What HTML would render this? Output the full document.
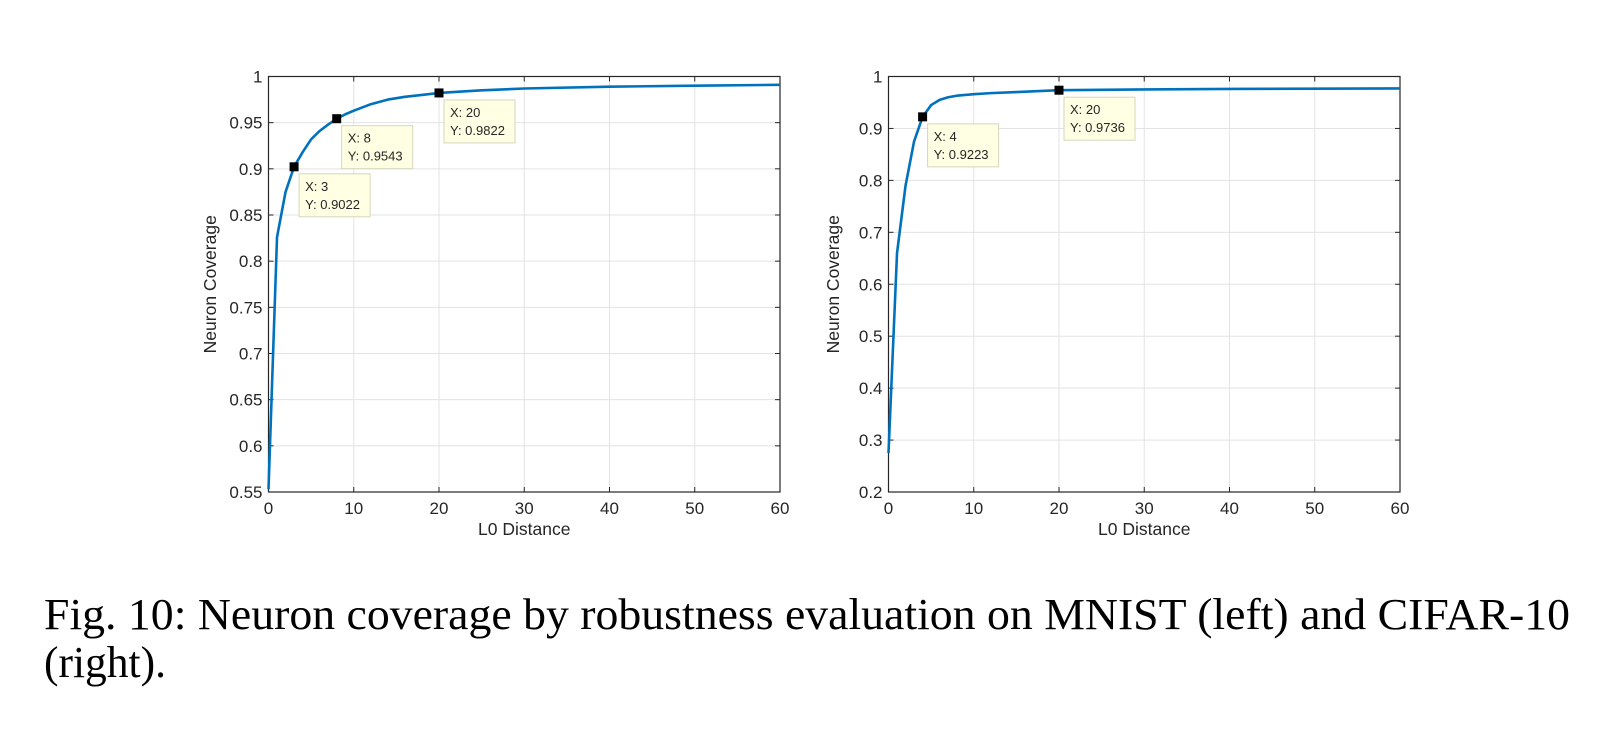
<!DOCTYPE html>
<html><head><meta charset="utf-8"><style>
html,body{margin:0;padding:0;background:#fff;width:1601px;height:729px;overflow:hidden}
svg text{font-family:"Liberation Sans",sans-serif}
</style></head><body>
<svg id="fig" width="1601" height="729" xmlns="http://www.w3.org/2000/svg">
<text x="44" y="629" style="font-family:'Liberation Serif',serif" font-size="44" textLength="1526" lengthAdjust="spacingAndGlyphs">Fig. 10: Neuron coverage by robustness evaluation on MNIST (left) and CIFAR-10</text>
<text x="44" y="677" style="font-family:'Liberation Serif',serif" font-size="44" textLength="122" lengthAdjust="spacingAndGlyphs">(right).</text>
</svg>
<script>
const leftX=[0,1,2,3,4,5,6,7,8,9,10,12,14,16,18,20,25,30,40,50,60];
const leftY=[0.553,0.826,0.875,0.9022,0.918,0.932,0.941,0.948,0.9543,0.959,0.963,0.970,0.975,0.978,0.980,0.9822,0.985,0.987,0.989,0.990,0.991];
const rightX=[0,1,2,3,4,5,6,7,8,10,12,15,20,30,40,60];
const rightY=[0.275,0.66,0.79,0.875,0.9223,0.945,0.955,0.96,0.963,0.966,0.968,0.970,0.9736,0.975,0.976,0.977];
const leftTipsX=[3,8,20];
const leftTipsY=[0.9022,0.9543,0.9822];
const rightTipsX=[4,20];
const rightTipsY=[0.9223,0.9736];
const xTicks=[0,10,20,30,40,50,60];
const leftYTicks=[0.55,0.6,0.65,0.7,0.75,0.8,0.85,0.9,0.95,1];
const leftYLabels=["0.55","0.6","0.65","0.7","0.75","0.8","0.85","0.9","0.95","1"];
const rightYTicks=[0.2,0.3,0.4,0.5,0.6,0.7,0.8,0.9,1];
const rightYLabels=["0.2","0.3","0.4","0.5","0.6","0.7","0.8","0.9","1"];

const svg=document.getElementById('fig');
const NS='http://www.w3.org/2000/svg';
function mk(tag,attrs,parent){const e=document.createElementNS(NS,tag);for(const k in attrs)e.setAttribute(k,attrs[k]);(parent||svg).appendChild(e);return e;}

function panel(name,L,R,T,B,ymin,ymax,xs,ys,yt,yl,tx,ty){
  const g=mk('g',{});
  
  
  const sx=v=>L+(v-0)/(60-0)*(R-L);
  const sy=v=>B-(v-ymin)/(ymax-ymin)*(B-T);
  mk('rect',{x:L,y:T,width:R-L,height:B-T,fill:'#fff'},g);
  xTicks.forEach(v=>{
    const l=mk('line',{x1:sx(v),x2:sx(v),y1:T,y2:B,stroke:'#e3e3e3','stroke-width':1},g);
    
    
  });
  yt.forEach(v=>{
    const l=mk('line',{x1:L,x2:R,y1:sy(v),y2:sy(v),stroke:'#e3e3e3','stroke-width':1},g);
    
    
  });
  const ax=mk('rect',{x:L,y:T,width:R-L,height:B-T,fill:'none',stroke:'#262626','stroke-width':1.2},g);
  
  
  xTicks.forEach(v=>{
    mk('line',{x1:sx(v),x2:sx(v),y1:B,y2:B-5,stroke:'#262626'},g);
    mk('line',{x1:sx(v),x2:sx(v),y1:T,y2:T+5,stroke:'#262626'},g);
    const t=mk('text',{x:sx(v),y:B+22,'text-anchor':'middle','font-size':17,fill:'#262626'},g);
    t.textContent=v;
    
    
  });
  yt.forEach((v,i)=>{
    mk('line',{x1:L,x2:L+5,y1:sy(v),y2:sy(v),stroke:'#262626'},g);
    mk('line',{x1:R,x2:R-5,y1:sy(v),y2:sy(v),stroke:'#262626'},g);
    const t=mk('text',{x:L-6,y:sy(v)+6,'text-anchor':'end','font-size':17,fill:'#262626'},g);
    t.textContent=yl[i];
    
    
  });
  const xt=mk('text',{x:(L+R)/2,y:B+43,'text-anchor':'middle','font-size':17.5,fill:'#262626'},g);
  xt.textContent='L0 Distance';
  
  
  const yx=name==='left-panel'?216:839;
  const ytl=mk('text',{x:yx,y:(T+B)/2,'text-anchor':'middle','font-size':17.5,fill:'#262626',transform:`rotate(-90 ${yx} ${(T+B)/2})`},g);
  ytl.textContent='Neuron Coverage';
  
  
  const p=mk('polyline',{points:xs.map((x,i)=>sx(x)+','+sy(ys[i])).join(' '),fill:'none',stroke:'#0072bd','stroke-width':2.6,'stroke-linejoin':'round'},g);
  
  
  tx.forEach((x,i)=>{
    const px=sx(x),py=sy(ty[i]);
    const m=mk('rect',{x:px-4.5,y:py-4.5,width:9,height:9,fill:'#000'},g);
    
    
    const b=mk('rect',{x:px+5,y:py+7,width:71,height:43,fill:'#ffffe3',stroke:'#d6d6bd','stroke-width':1},g);
    
    
    const t1=mk('text',{x:px+11,y:py+24,'font-size':13,fill:'#262626'},g);
    t1.textContent='X: '+x;
    
    
    const t2=mk('text',{x:px+11,y:py+42,'font-size':13,fill:'#262626'},g);
    t2.textContent='Y: '+ty[i].toFixed(4);
    
    
  });
}
panel('left-panel',268.5,780,76.5,492,0.55,1,leftX,leftY,leftYTicks,leftYLabels,leftTipsX,leftTipsY);
panel('right-panel',888.5,1400,76.5,492,0.2,1,rightX,rightY,rightYTicks,rightYLabels,rightTipsX,rightTipsY);
</script>
</body></html>
